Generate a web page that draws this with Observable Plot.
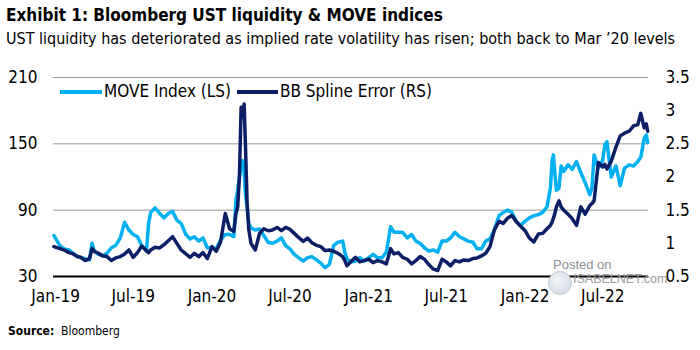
<!DOCTYPE html>
<html>
<head>
<meta charset="utf-8">
<script src="https://cdn.jsdelivr.net/npm/d3@7"></script>
<script src="https://cdn.jsdelivr.net/npm/@observablehq/plot@0.6"></script>
<style>
  body{margin:0;background:#fff;width:700px;height:350px;overflow:hidden;position:relative;
       font-family:"Liberation Sans Narrow","DejaVu Sans Condensed","Roboto Condensed",sans-serif;color:#000}
  .abs{position:absolute;white-space:nowrap}
  #title{left:6px;top:5px;font-size:17px;font-weight:bold}
  #sub{left:6px;top:29px;font-size:16px}
  #chart{left:0;top:58px}
  .lgline{position:absolute;height:4px;top:90px}
  .lgtext{position:absolute;top:81px;font-size:17px;line-height:20px}
  #src{left:8px;top:324px;font-size:12px}
  #wm1{left:553px;top:258px;font-family:"Liberation Sans",Arial,sans-serif;font-size:13px;line-height:14px;color:#8f8f8f}
  #wm2{left:573px;top:273px;font-family:"Liberation Sans",Arial,sans-serif;font-size:12.5px;line-height:13px;color:#9a9a9a}
  #globe{left:548px;top:271px;width:22px;height:22px;border-radius:50%;
         background:radial-gradient(circle at 40% 40%,#f4f7fb,#c9d3de);border:1px solid #c0c8d2}
</style>
</head>
<body>
<div id="title" class="abs">Exhibit 1: Bloomberg UST liquidity &amp; MOVE indices</div>
<div id="sub" class="abs">UST liquidity has deteriorated as implied rate volatility has risen; both back to Mar ’20 levels</div>
<div id="chart" class="abs"></div>
<div class="lgline" style="left:60px;width:42px;background:#00B0F0"></div>
<div class="lgtext" style="left:104px">MOVE Index (LS)</div>
<div class="lgline" style="left:237px;width:41px;background:#0C1F66"></div>
<div class="lgtext" style="left:280px">BB Spline Error (RS)</div>
<div id="src" class="abs"><b>Source:</b>&nbsp; Bloomberg</div>
<div id="globe" class="abs"></div>
<div id="wm1" class="abs">Posted on</div>
<div id="wm2" class="abs">ISABELNET.com</div>
<script>
const dates = [
"2018-12-28","2019-01-11","2019-01-21","2019-02-01","2019-02-11","2019-02-21","2019-03-01","2019-03-11","2019-03-21","2019-03-27",
"2019-04-01","2019-04-11","2019-04-21","2019-05-01","2019-05-11","2019-05-21","2019-06-01","2019-06-11","2019-06-21","2019-07-01",
"2019-07-11","2019-07-21","2019-08-01","2019-08-06","2019-08-11","2019-08-21","2019-09-01","2019-09-11","2019-09-21","2019-10-01",
"2019-10-11","2019-10-21","2019-11-01","2019-11-11","2019-11-21","2019-12-01","2019-12-11","2019-12-21","2020-01-01","2020-01-11",
"2020-01-21","2020-02-01","2020-02-11","2020-02-21","2020-02-26","2020-03-01","2020-03-05","2020-03-09","2020-03-12","2020-03-16",
"2020-03-19","2020-03-23","2020-03-27","2020-04-01","2020-04-11","2020-04-21","2020-05-01","2020-05-11","2020-05-21","2020-06-01",
"2020-06-11","2020-06-21","2020-07-01","2020-07-11","2020-07-21","2020-08-01","2020-08-11","2020-08-21","2020-09-01","2020-09-11",
"2020-09-21","2020-10-01","2020-10-11","2020-10-21","2020-11-01","2020-11-06","2020-11-11","2020-11-21","2020-12-01","2020-12-11",
"2020-12-21","2021-01-01","2021-01-11","2021-01-21","2021-02-01","2021-02-11","2021-02-21","2021-03-01","2021-03-11","2021-03-21",
"2021-04-01","2021-04-11","2021-04-21","2021-05-01","2021-05-11","2021-05-21","2021-06-01","2021-06-11","2021-06-21","2021-07-01",
"2021-07-11","2021-07-21","2021-08-01","2021-08-11","2021-08-21","2021-09-01","2021-09-11","2021-09-21","2021-10-01","2021-10-11",
"2021-10-21","2021-11-01","2021-11-11","2021-11-21","2021-12-01","2021-12-11","2021-12-21","2022-01-01","2022-01-11","2022-01-21",
"2022-02-01","2022-02-11","2022-02-21","2022-03-01","2022-03-05","2022-03-08","2022-03-11","2022-03-15","2022-03-21","2022-03-26",
"2022-04-01","2022-04-11","2022-04-21","2022-05-01","2022-05-11","2022-05-21","2022-06-01","2022-06-06","2022-06-11","2022-06-21",
"2022-07-01","2022-07-06","2022-07-11","2022-07-21","2022-08-01","2022-08-11","2022-08-21","2022-09-01","2022-09-11","2022-09-21",
"2022-09-28","2022-10-06","2022-10-11","2022-10-14"
];
// MOVE Index (left scale)
const move = [
67,58,55,54,51,48,47,46,45,60,
53,50,49,51,56,58,65,79,72,68,
66,58,53,78,88,92,87,83,87,89,
81,78,68,64,66,62,65,56,56,55,
63,68,68,66,100,108,120,130,135,125,
105,92,78,74,72,73,67,61,60,62,
65,58,55,50,47,44,47,48,45,42,
38,41,58,61,62,52,46,43,44,47,
44,47,50,47,47,52,75,70,70,70,
65,68,62,60,56,53,54,52,62,62,
65,70,66,64,62,61,55,55,62,64,
72,85,88,90,88,80,76,80,83,85,
86,88,93,110,135,140,125,108,110,130,
125,131,127,134,124,115,104,110,140,128,
135,149,152,120,130,112,128,131,130,134,
138,155,158,151
];
// BB Spline Error (right scale)
const bb = [
0.95,0.92,0.90,0.86,0.84,0.80,0.79,0.74,0.77,0.92,
0.88,0.85,0.81,0.80,0.74,0.78,0.80,0.84,0.90,0.79,
0.86,0.96,0.89,0.86,0.90,0.94,0.93,0.98,1.04,1.10,
1.00,0.90,0.84,0.79,0.85,0.80,0.86,0.77,0.95,0.88,
1.02,1.45,1.22,1.18,1.45,1.55,2.00,3.05,2.90,3.10,
2.50,1.60,1.20,1.00,0.90,1.15,1.22,1.19,1.20,1.24,
1.19,1.24,1.21,1.15,1.09,1.03,1.08,1.01,0.97,0.95,
0.89,0.90,0.88,0.85,0.80,0.74,0.66,0.73,0.79,0.72,
0.74,0.76,0.71,0.74,0.72,0.69,0.92,0.84,0.86,0.79,
0.76,0.69,0.74,0.80,0.76,0.68,0.61,0.59,0.76,0.72,
0.66,0.74,0.72,0.75,0.74,0.77,0.78,0.81,0.85,0.95,
1.20,1.33,1.30,1.38,1.42,1.33,1.26,1.19,1.08,1.02,
1.14,1.15,1.22,1.27,1.32,1.38,1.44,1.55,1.64,1.55,
1.50,1.44,1.37,1.27,1.55,1.44,1.57,1.60,1.64,2.22,
2.15,2.19,2.12,2.24,2.45,2.62,2.66,2.69,2.77,2.79,
2.96,2.74,2.80,2.69
];
const leftTicks = [30, 90, 150, 210];
const rightTicks = [0.5, 1, 1.5, 2, 2.5, 3, 3.5];
const xTicks = ["2019-01-01","2019-07-01","2020-01-01","2020-07-01","2021-01-01","2021-07-01","2022-01-01","2022-07-01"];
const xDomain = ["2018-12-27","2022-10-16"];

// right-scale value expressed in left-scale units (0.5 -> 30, 3.5 -> 210)
const rs = v => 30 + (v - 0.5) * 60;
const data = dates.map((d, i) => ({date: new Date(d), move: move[i], bb: bb[i]}));

const chart = Plot.plot({
  width: 700, height: 250,
  marginTop: 19, marginBottom: 32, marginLeft: 53, marginRight: 52,
  style: {fontFamily: '"Liberation Sans Narrow","DejaVu Sans Condensed",sans-serif', fontSize: "17px", color: "#000", background: "transparent"},
  x: {type: "utc", domain: xDomain.map(d => new Date(d))},
  y: {domain: [30, 210]},
  marks: [
    Plot.ruleY(leftTicks.slice(1), {stroke: "#9a9a9a", strokeWidth: 1}),
    Plot.axisY({anchor: "left", ticks: leftTicks, tickSize: 0, tickPadding: 16, label: null, fontSize: 17}),
    Plot.axisY({anchor: "right", ticks: rightTicks.map(rs), tickFormat: v => String((v - 30) / 60 + 0.5), tickSize: 0, tickPadding: 17, label: null, fontSize: 17}),
    Plot.axisX({ticks: xTicks.map(d => new Date(d)), tickFormat: d3.utcFormat("%b-%y"), tickSize: 0, tickPadding: 13, label: null, fontSize: 17}),
    Plot.lineY(data, {x: "date", y: "move", stroke: "#00B0F0", strokeWidth: 3.5, strokeLinejoin: "round"}),
    Plot.lineY(data, {x: "date", y: d => rs(d.bb), stroke: "#0C1F66", strokeWidth: 3.5, strokeLinejoin: "round"}),
    Plot.ruleY([30], {stroke: "#000", strokeWidth: 2})
  ]
});
document.getElementById("chart").appendChild(chart);
</script>
</body>
</html>
